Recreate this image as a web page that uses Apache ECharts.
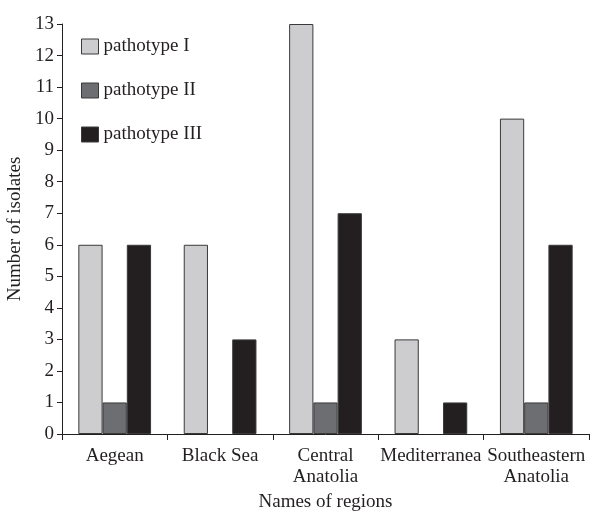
<!DOCTYPE html>
<html>
<head>
<meta charset="utf-8">
<script src="https://cdn.jsdelivr.net/npm/echarts@6/dist/echarts.min.js"></script>
<style>
  html, body { margin: 0; padding: 0; background: #fff; }
  #chart { width: 598px; height: 511px; }
</style>
</head>
<body>
<div id="chart"></div>
<script>
const regions = ['Aegean', 'Black Sea', 'Central\nAnatolia', 'Mediterranea', 'Southeastern\nAnatolia']
const pathotypeI = [6, 6, 13, 3, 10]
const pathotypeII = [1, 0, 1, 0, 1]
const pathotypeIII = [6, 3, 7, 1, 6]

const font = '"Liberation Serif", "DejaVu Serif", serif'
const axisColor = '#231f20'

const chart = echarts.init(document.getElementById('chart'))

// zero-height bars are left out so no flat outline is drawn on the axis
function bar(name, data, color) {
  return {
    name,
    type: 'bar',
    data: data.map(v => (v === 0 ? '-' : v)),
    barGap: 0,
    barCategoryGap: '31%',
    itemStyle: { color, borderColor: '#3a3a3a', borderWidth: 1 },
  }
}

chart.setOption({
  animation: false,
  textStyle: { fontFamily: font, color: axisColor },
  grid: { left: 62, right: 9, top: 24, bottom: 77, outerBoundsMode: 'none', containLabel: false },
  legend: {
    orient: 'vertical',
    left: 76,
    top: 32,
    icon: 'rect',
    itemWidth: 17,
    itemHeight: 15,
    itemGap: 25,
    itemStyle: { borderColor: '#3a3a3a', borderWidth: 1 },
    textStyle: { fontFamily: font, fontSize: 19, color: axisColor },
    data: ['pathotype I', 'pathotype II', 'pathotype III'],
  },
  xAxis: {
    type: 'category',
    data: regions,
    name: 'Names of regions',
    nameLocation: 'middle',
    nameGap: 57,
    nameTextStyle: { fontFamily: font, fontSize: 19, color: axisColor },
    axisLine: { lineStyle: { color: axisColor, width: 1 } },
    axisTick: { show: true, length: 6, lineStyle: { color: axisColor } },
    axisLabel: { fontFamily: font, fontSize: 19, color: axisColor, margin: 12, lineHeight: 21, interval: 0 },
  },
  yAxis: {
    type: 'value',
    min: 0,
    max: 13,
    interval: 1,
    name: 'Number of isolates',
    nameLocation: 'middle',
    nameGap: 36,
    nameTextStyle: { fontFamily: font, fontSize: 19, color: axisColor },
    axisLine: { show: true, lineStyle: { color: axisColor, width: 1 } },
    axisTick: { show: true, length: 5, lineStyle: { color: axisColor } },
    axisLabel: { fontFamily: font, fontSize: 19, color: axisColor, margin: 8 },
    splitLine: { show: false },
  },
  series: [
    bar('pathotype I', pathotypeI, '#cdcdcf'),
    bar('pathotype II', pathotypeII, '#6d6e71'),
    bar('pathotype III', pathotypeIII, '#231f20'),
  ],
})
</script>
</body>
</html>
